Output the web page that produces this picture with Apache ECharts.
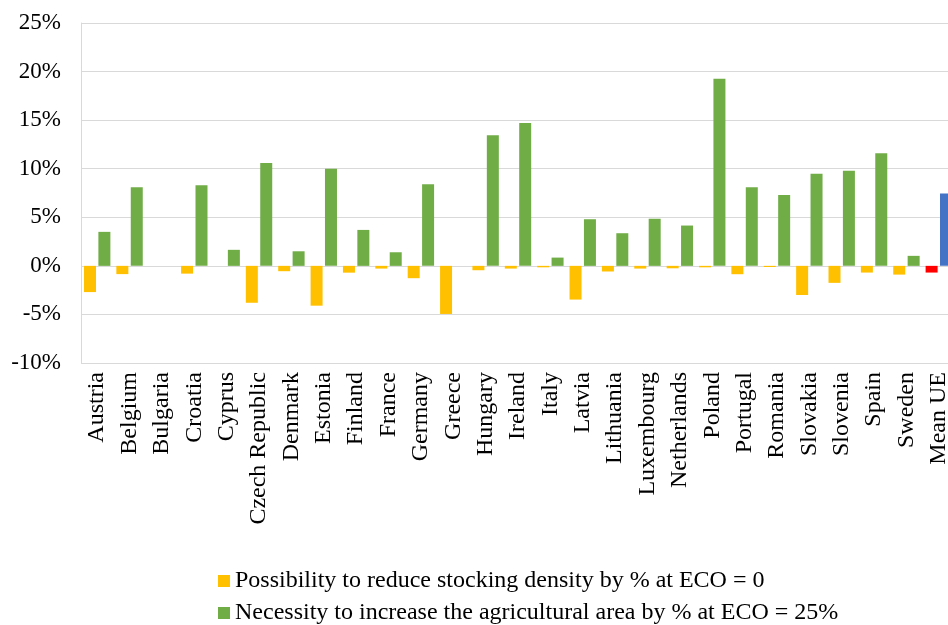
<!DOCTYPE html>
<html><head><meta charset="utf-8">
<script src="https://cdn.jsdelivr.net/npm/echarts@6/dist/echarts.min.js"></script>
<style>html,body{margin:0;padding:0;background:#fff;overflow:hidden}#c{width:955px;height:625px}</style>
</head><body><div id="c"></div>
<script>
var categories = ["Austria","Belgium","Bulgaria","Croatia","Cyprus","Czech Republic","Denmark","Estonia","Finland","France","Germany","Greece","Hungary","Ireland","Italy","Latvia","Lithuania","Luxembourg","Netherlands","Poland","Portugal","Romania","Slovakia","Slovenia","Spain","Sweden","Mean UE"];
var stocking = [-2.7,-0.85,0,-0.8,0,-3.8,-0.55,-4.1,-0.7,-0.28,-1.27,-4.95,-0.45,-0.28,-0.15,-3.47,-0.58,-0.28,-0.25,-0.15,-0.86,-0.12,-3.0,-1.75,-0.69,-0.9,-0.69];
var area = [3.5,8.1,0,8.3,1.65,10.6,1.5,10.0,3.7,1.4,8.4,0,13.45,14.7,0.85,4.8,3.36,4.85,4.15,19.25,8.1,7.3,9.47,9.78,11.6,1.03,7.45];
var seriesNames = ["Possibility to reduce stocking density by % at ECO = 0","Necessity to increase the agricultural area by % at ECO = 25%"];
var yTicks = {min:-10, max:25, interval:5};

var font = "Liberation Serif";
var last = categories.length - 1;
var stockData = stocking.map(function(v,i){ return i===last ? {value:v, itemStyle:{color:'#FF0000'}} : v; });
var areaData = area.map(function(v,i){ return i===last ? {value:v, itemStyle:{color:'#4472C4'}} : v; });

var legendBase = {icon:'rect', itemWidth:12, itemHeight:12, textStyle:{fontFamily:font, fontSize:24, color:'#000'}, left:213};

var chart = echarts.init(document.getElementById('c'));
chart.setOption({
  animation:false,
  grid:{left:81, top:23, right:0, bottom:262, containLabel:false},
  legend:[
    Object.assign({}, legendBase, {top:564, data:[seriesNames[0]]}),
    Object.assign({}, legendBase, {top:596, data:[seriesNames[1]]})
  ],
  xAxis:{
    type:'category', data:categories,
    axisLine:{show:false}, axisTick:{show:false},
    axisLabel:{rotate:90, interval:0, fontFamily:font, fontSize:24, color:'#000', margin:9}
  },
  yAxis:{
    type:'value', min:yTicks.min, max:yTicks.max, interval:yTicks.interval,
    axisLine:{show:true, lineStyle:{color:'#d9d9d9'}}, axisTick:{show:false},
    splitLine:{show:true, lineStyle:{color:'#d9d9d9', width:1}},
    axisLabel:{formatter:'{value}%', fontFamily:font, fontSize:23, color:'#000', margin:20}
  },
  series:[
    {name:seriesNames[0], type:'bar', data:stockData, barWidth:12, barGap:'20%', itemStyle:{color:'#FFC000'}},
    {name:seriesNames[1], type:'bar', data:areaData, barWidth:12, barGap:'20%', itemStyle:{color:'#70AD47'}}
  ]
});
</script></body></html>
